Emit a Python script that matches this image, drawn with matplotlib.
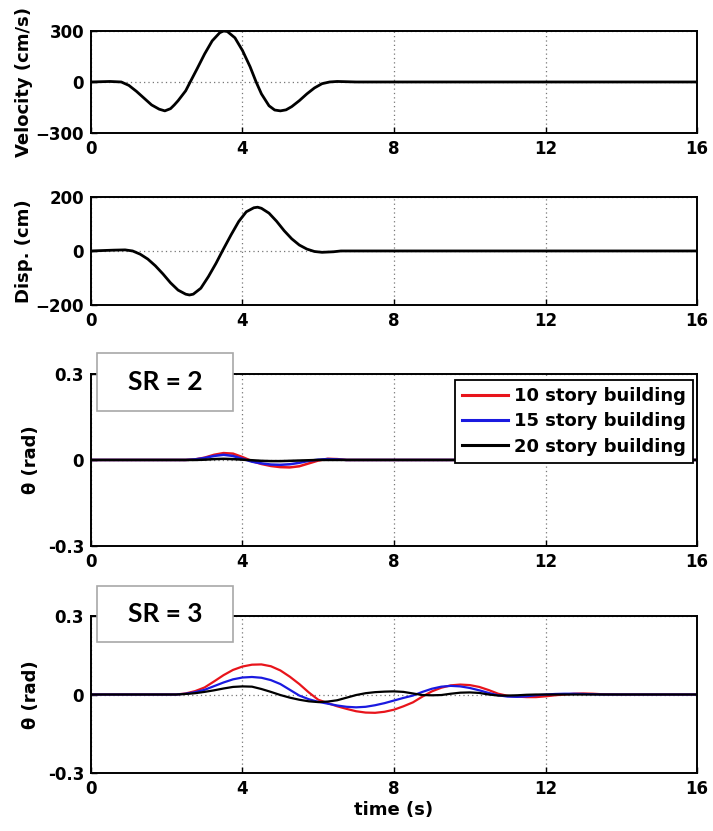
import matplotlib
matplotlib.use("Agg")
import matplotlib.pyplot as plt
from matplotlib.patches import Rectangle

# ground motion - velocity pulse
vel_t = [0, 0.5, 0.8, 1.0, 1.2, 1.4, 1.6, 1.8, 1.95, 2.1, 2.2, 2.3, 2.5, 2.62,
         2.8, 3.0, 3.2, 3.4, 3.5, 3.6, 3.8, 4.0, 4.2, 4.36, 4.5, 4.7, 4.85, 5.0,
         5.15, 5.3, 5.5, 5.7, 5.9, 6.1, 6.3, 6.5, 7.0, 16]
velocity = [0, 3, 0, -20, -55, -95, -135, -160, -170, -157, -135, -110, -52, 0,
            77, 165, 242, 290, 300, 297, 260, 185, 90, 0, -70, -140, -165, -170,
            -164, -145, -110, -70, -35, -10, 0, 3, 0, 0]

# ground displacement
disp_t = [0, 0.6, 0.9, 1.1, 1.3, 1.5, 1.7, 1.9, 2.1, 2.3, 2.5, 2.6, 2.7, 2.9,
          3.1, 3.3, 3.47, 3.7, 3.9, 4.1, 4.3, 4.4, 4.5, 4.7, 4.9, 5.1, 5.3, 5.5,
          5.7, 5.9, 6.1, 6.4, 6.6, 16]
displacement = [0, 3, 4, 0, -12, -30, -55, -85, -118, -145, -160, -163, -160, -138,
                -95, -46, 0, 60, 109, 145, 160, 162, 158, 140, 110, 75, 45, 22,
                7, -2, -5, -3, 0, 0]

# rotation, SR = 2
sr2_t = [0, 2.5, 2.75, 3.0, 3.25, 3.5, 3.75, 4.0, 4.25, 4.5, 4.75, 5.0, 5.25,
         5.5, 5.75, 6.0, 6.25, 6.5, 6.75, 16]
sr2_10 = [0, 0, 0.002, 0.008, 0.018, 0.024, 0.022, 0.01, -0.004, -0.014, -0.021,
          -0.025, -0.026, -0.022, -0.012, -0.002, 0.004, 0.003, 0, 0]
sr2_15 = [0, 0, 0.002, 0.007, 0.014, 0.018, 0.014, 0.004, -0.006, -0.012, -0.016,
          -0.017, -0.015, -0.01, -0.003, 0.001, 0.003, 0.002, 0, 0]
sr2_20 = [0, 0, 0, 0.001, 0.003, 0.004, 0.003, 0.001, -0.001, -0.003, -0.004,
          -0.004, -0.003, -0.002, -0.001, 0, 0, 0, 0, 0]

# rotation, SR = 3
sr3_t = [0, 2.25, 2.5, 2.75, 3.0, 3.25, 3.5, 3.75, 4.0, 4.25, 4.5, 4.75, 5.0,
         5.25, 5.5, 5.75, 6.0, 6.25, 6.5, 6.75, 7.0, 7.25, 7.5, 7.75, 8.0, 8.25,
         8.5, 8.75, 9.0, 9.25, 9.5, 9.75, 10.0, 10.25, 10.5, 10.75, 11.0, 11.25,
         11.5, 11.75, 12.0, 12.25, 12.5, 12.75, 13.0, 13.25, 13.5, 14.0, 16.0]
sr3_10 = [0, 0, 0.004, 0.013, 0.027, 0.05, 0.074, 0.094, 0.107, 0.114, 0.115,
          0.108, 0.092, 0.068, 0.04, 0.008, -0.02, -0.033, -0.045, -0.055, -0.064,
          -0.069, -0.07, -0.066, -0.058, -0.045, -0.03, -0.008, 0.012, 0.026, 0.035,
          0.038, 0.036, 0.029, 0.017, 0.003, -0.005, -0.008, -0.01, -0.01, -0.007,
          -0.003, 0.0, 0.003, 0.004, 0.003, 0.001, 0, 0]
sr3_15 = [0, 0, 0.003, 0.009, 0.018, 0.032, 0.046, 0.058, 0.065, 0.067, 0.064,
          0.055, 0.04, 0.018, -0.004, -0.018, -0.028, -0.035, -0.042, -0.047, -0.049,
          -0.047, -0.041, -0.033, -0.023, -0.013, -0.004, 0.01, 0.022, 0.03, 0.033,
          0.031, 0.025, 0.016, 0.006, -0.003, -0.008, -0.009, -0.007, -0.003, 0.0,
          0.002, 0.003, 0.003, 0.002, 0.001, 0.0, 0, 0]
sr3_20 = [0, 0, 0.002, 0.005, 0.01, 0.016, 0.023, 0.029, 0.031, 0.03, 0.021,
          0.01, -0.002, -0.012, -0.02, -0.026, -0.029, -0.027, -0.022, -0.012, -0.002,
          0.005, 0.009, 0.011, 0.012, 0.01, 0.004, -0.002, -0.003, -0.002, 0.003,
          0.007, 0.008, 0.006, 0.0, -0.004, -0.004, -0.003, -0.001, 0, 0,
          0, 0, 0, 0, 0, 0, 0, 0]

labels = ["10 story building", "15 story building", "20 story building"]
colors = ["#e8141b", "#1a1ae0", "black"]
xticks = [0, 4, 8, 12, 16]

plt.rcParams["font.family"] = "DejaVu Sans"
plt.rcParams["font.weight"] = "bold"

fig = plt.figure(figsize=(7.13, 8.31), dpi=100)

# axes boxes (left, bottom, width, height) in figure fractions
ax1 = fig.add_axes([0.1276, 0.8400, 0.850, 0.1227])
ax2 = fig.add_axes([0.1276, 0.6330, 0.850, 0.1300])
ax3 = fig.add_axes([0.1276, 0.3430, 0.850, 0.2070])
ax4 = fig.add_axes([0.1276, 0.0698, 0.850, 0.1889])

ax1.plot(vel_t, velocity, color="black", lw=2.0)
ax2.plot(disp_t, displacement, color="black", lw=2.0)

for ys, c, lab in zip([sr2_10, sr2_15, sr2_20], colors, labels):
    ax3.plot(sr2_t, ys, color=c, lw=1.8, label=lab)
for ys, c in zip([sr3_10, sr3_15, sr3_20], colors):
    ax4.plot(sr3_t, ys, color=c, lw=1.6)

ax1.set_ylim(-300, 300)
ax1.set_yticks([-300, 0, 300])
ax2.set_ylim(-200, 200)
ax2.set_yticks([-200, 0, 200])
for ax in (ax3, ax4):
    ax.set_ylim(-0.3, 0.3)
    ax.set_yticks([-0.3, 0, 0.3])
    ax.set_yticklabels(["-0.3", "0", "0.3"])

for ax in (ax1, ax2, ax3, ax4):
    ax.set_xlim(0, 16)
    ax.set_xticks(xticks)
    ax.grid(True, color="#777777", ls=(0, (1, 2.5)), lw=0.9)
    ax.tick_params(direction="in", length=4, width=1, labelsize=12, pad=5)
    for sp in ax.spines.values():
        sp.set_linewidth(1.4)
    for lab in ax.get_xticklabels() + ax.get_yticklabels():
        lab.set_fontweight("bold")

ax1.set_ylabel("Velocity (cm/s)", fontsize=13, fontweight="bold")
ax2.set_ylabel("Disp. (cm)", fontsize=13, fontweight="bold")
ax3.set_ylabel("\u03b8 (rad)", fontsize=13, fontweight="bold")
ax4.set_ylabel("\u03b8 (rad)", fontsize=13, fontweight="bold")
ax1.yaxis.set_label_coords(-0.096, 0.5)
ax2.yaxis.set_label_coords(-0.096, 0.5)
ax3.yaxis.set_label_coords(-0.084, 0.5)
ax4.yaxis.set_label_coords(-0.084, 0.5)
ax4.set_xlabel("time (s)", fontsize=13, fontweight="bold", labelpad=2)

leg = ax3.legend(loc="upper right", bbox_to_anchor=(0.9934, 0.965),
                 borderaxespad=0, fancybox=False, framealpha=1,
                 prop={"size": 13, "weight": "bold"}, handlelength=2.5,
                 handletextpad=0.35, labelspacing=0.4, borderpad=0.4)
leg.get_frame().set_edgecolor("black")
leg.get_frame().set_linewidth(1.3)
for line in leg.get_lines():
    line.set_linewidth(2.2)

# SR annotation boxes
for (y0, h, ty), txt in zip([(0.5054, 0.0698, 0.5403), (0.2274, 0.0674, 0.2611)],
                            ["SR = 2", "SR = 3"]):
    fig.patches.append(Rectangle((0.136, y0), 0.1907, h, transform=fig.transFigure,
                                 facecolor="white", edgecolor="#a8a8a8", lw=1.2,
                                 zorder=5))
    fig.text(0.2314, ty, txt, ha="center", va="center", fontsize=19,
             fontweight="bold", family="Lato", zorder=6)

plt.savefig("out.png", dpi=100)
